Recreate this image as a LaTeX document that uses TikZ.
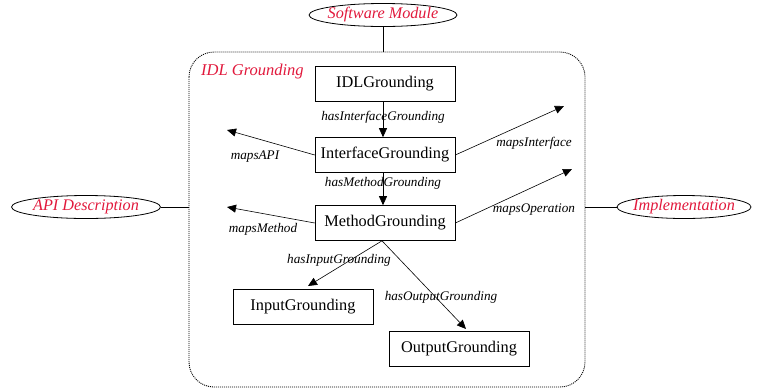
\documentclass[tikz,border=0pt]{standalone}
\usepackage{fontspec}
\setmainfont{Liberation Serif}
\usepackage{xcolor}
\usetikzlibrary{arrows.meta,positioning,shapes.geometric}
\definecolor{idlred}{RGB}{225,25,60}
\newcommand{\tight}[1]{\makebox[0pt]{#1}}

\begin{document}
\begin{tikzpicture}[
  x=1pt,y=-1pt,
  grounding/.style={rectangle,draw,semithick,minimum width=140pt,minimum height=35pt,font=\fontsize{16.3}{19}\selectfont},
  outer/.style={ellipse,draw,thick,inner sep=0pt,minimum height=23pt,text=idlred,font=\fontsize{16.2}{19}\selectfont\itshape},
  rel/.style={-{Triangle[length=9pt,width=8pt]},semithick},
  lbl/.style={font=\fontsize{13.2}{16}\selectfont\itshape}
]
  \useasboundingbox (0,0) rectangle (759,389);
  % the module frame
  \draw[line width=0.9pt,dash pattern=on 1pt off 1pt,rounded corners=25pt] (189,52) rectangle (585,387);
  \node[text=idlred,font=\fontsize{16.5}{19}\selectfont\itshape,anchor=west,inner sep=0pt] (frame) at (201,72) {IDL Grounding};

  \node[outer,minimum width=148pt] (module) at (383,15) {\tight{Software Module}};
  \node[outer,minimum width=149pt] (api) at (86,207) {\tight{API Description}};
  \node[outer,minimum width=134pt] (impl) at (684,207) {\tight{Implementation}};
  \draw[semithick] (module) -- (module |- 0,52);
  \draw[semithick] (api) -- (189,207);
  \draw[semithick] (impl) -- (585,207);

  \node[grounding] (idl) at (385,84) {IDLGrounding};
  \node[grounding] (iface) at (385,155) {InterfaceGrounding};
  \node[grounding] (method) at (385,223) {MethodGrounding};
  \node[grounding] (input) at (303,307) {InputGrounding};
  \node[grounding] (output) at (459,349) {OutputGrounding};

  \coordinate (apiend) at (227,130);
  \coordinate (ifend) at (564,106);
  \coordinate (methend) at (227,207);
  \coordinate (opend) at (572,169);

  \draw[rel] (idl.south -| 383,0) -- (iface.north -| 383,0);
  \node[lbl] at (383,117) {hasInterfaceGrounding};
  \draw[rel] (iface.south -| 383,0) -- (method.north -| 383,0);
  \node[lbl] at (383,183) {hasMethodGrounding};

  \draw[rel] (iface.west) -- (apiend);
  \node[lbl] at (255,157) {mapsAPI};
  \draw[rel] (iface.east) -- (ifend);
  \node[lbl] at (534,143) {mapsInterface};
  \draw[rel] (method.west) -- (methend);
  \node[lbl] at (263,229) {mapsMethod};
  \draw[rel] (method.east) -- (opend);
  \node[lbl] at (534,210) {mapsOperation};

  \draw[rel] (method.south -| 382,0) -- (308,286);
  \node[lbl] at (339,260) {hasInputGrounding};
  \draw[rel] (method.south -| 382,0) -- (466,329);
  \node[lbl] at (441,297) {hasOutputGrounding};
\end{tikzpicture}
\end{document}
